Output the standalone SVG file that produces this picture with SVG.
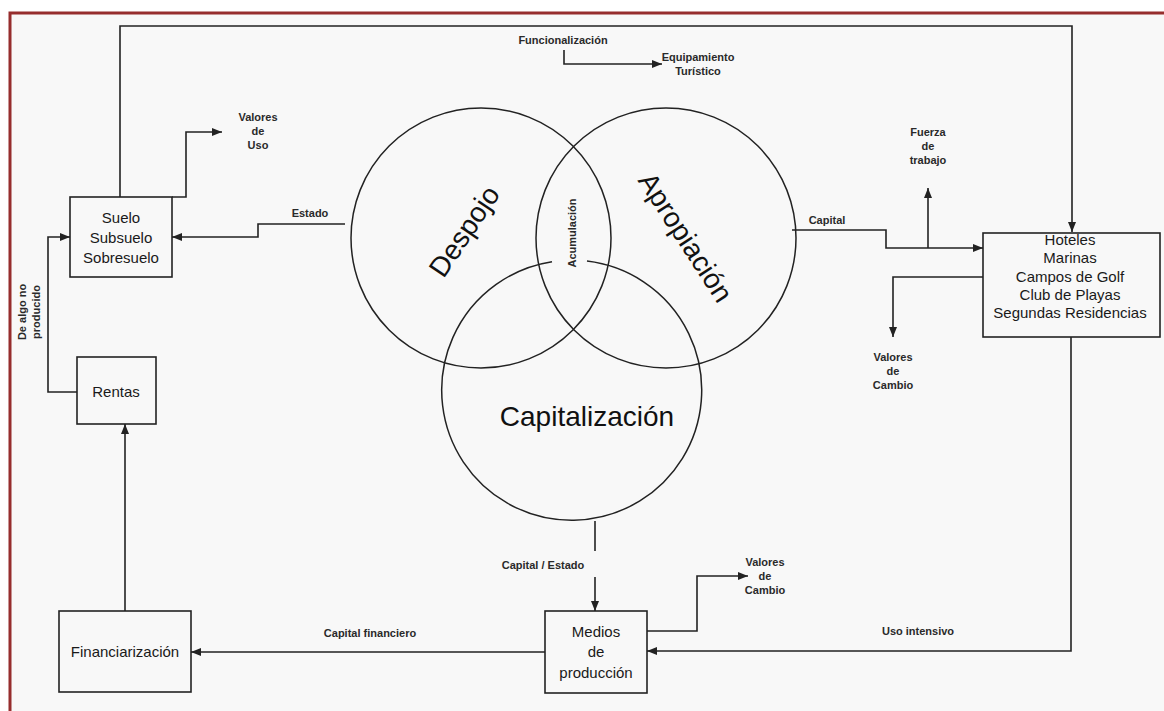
<svg xmlns="http://www.w3.org/2000/svg" width="1164" height="711" viewBox="0 0 1164 711">
<defs>
<style>
.bg{fill:#f8f8f8}
.frame{fill:none;stroke:#962d2d;stroke-width:3}
.box{fill:#f8f8f8;stroke:#222;stroke-width:1.6}
.circ{fill:none;stroke:#222;stroke-width:1.5}
.ln{fill:none;stroke:#222;stroke-width:1.6}
.arr{marker-end:url(#ah)}
.bt{font-family:"Liberation Sans",Arial,sans-serif;font-size:15px;fill:#1a1a1a;text-anchor:middle}
.lb{font-family:"Liberation Sans",Arial,sans-serif;font-size:11px;font-weight:bold;fill:#2a2a2a;text-anchor:middle}
.big{font-family:"Liberation Sans",Arial,sans-serif;font-size:28px;fill:#111;text-anchor:middle}
</style>
<marker id="ah" viewBox="0 0 10 10" refX="10" refY="5" markerWidth="6.5" markerHeight="6.5" markerUnits="strokeWidth" orient="auto">
<path d="M0,1 L10,5 L0,9 z" fill="#222"/>
</marker>
</defs>
<rect x="0" y="0" width="1164" height="711" fill="#ffffff"/>
<rect class="bg" x="10" y="13" width="1154" height="698"/>
<path class="frame" d="M10,711 L10,13 L1164,13"/>

<g id="venn">
<circle class="circ" cx="481" cy="238" r="130"/>
<circle class="circ" cx="666" cy="238" r="130"/>
<path class="circ" d="M552,261.7 A130,130 0 1 0 587,261.1"/>
<text class="big" transform="translate(464,231) rotate(-56)" dy="10">Despojo</text>
<text class="big" transform="translate(686,237) rotate(57)" dy="10">Apropiación</text>
<text class="big" x="587" y="426" font-size="26">Capitalización</text>
<text class="lb" transform="translate(572,233) rotate(-90)" dy="4">Acumulación</text>
</g>

<g id="suelo">
<rect class="box" x="70" y="197" width="102" height="80"/>
<text class="bt" x="121" y="223">Suelo</text>
<text class="bt" x="121" y="243">Subsuelo</text>
<text class="bt" x="121" y="263">Sobresuelo</text>
</g>

<g id="rentas">
<rect class="box" x="77" y="357" width="79" height="67"/>
<text class="bt" x="116" y="397">Rentas</text>
</g>

<g id="financiarizacion">
<rect class="box" x="59" y="611" width="132" height="81"/>
<text class="bt" x="125" y="657">Financiarización</text>
</g>

<g id="medios">
<rect class="box" x="545" y="611" width="102" height="82"/>
<text class="bt" x="596" y="637">Medios</text>
<text class="bt" x="596" y="657">de</text>
<text class="bt" x="596" y="678">producción</text>
</g>

<g id="hoteles">
<rect class="box" x="983" y="233" width="177" height="104"/>
<text class="bt" x="1070" y="245" font-size="14">Hoteles</text>
<text class="bt" x="1070" y="263" font-size="14">Marinas</text>
<text class="bt" x="1070" y="282" font-size="14">Campos de Golf</text>
<text class="bt" x="1070" y="300" font-size="14">Club de Playas</text>
<text class="bt" x="1070" y="318" font-size="14">Segundas Residencias</text>
</g>

<g id="connectors">
<path class="ln arr" d="M120,197 L120,26 L1072,26 L1072,232"/>
<path class="ln arr" d="M172,197 L186,197 L186,132 L222,132"/>
<path class="ln arr" d="M345,224 L258,224 L258,237 L172,237"/>
<path class="ln arr" d="M77,392 L48,392 L48,237 L70,237"/>
<path class="ln arr" d="M125,611 L125,424"/>
<path class="ln arr" d="M545,652 L191,652"/>
<path class="ln" d="M595,521 L595,551"/>
<path class="ln arr" d="M595,577 L595,611"/>
<path class="ln arr" d="M647,631 L697,631 L697,576 L748,576"/>
<path class="ln arr" d="M1071,337 L1071,651 L647,651"/>
<path class="ln arr" d="M792,230 L886,230 L886,248 L983,248"/>
<path class="ln arr" d="M928,248 L928,188"/>
<path class="ln arr" d="M983,277 L893,277 L893,337"/>
<path class="ln arr" d="M564,50 L564,64 L662,64"/>
</g>

<g id="labels">
<text class="lb" x="258" y="121">Valores</text>
<text class="lb" x="258" y="135">de</text>
<text class="lb" x="258" y="149">Uso</text>
<text class="lb" x="310" y="217">Estado</text>
<text class="lb" transform="translate(26,312) rotate(-90)">De algo no</text>
<text class="lb" transform="translate(40,312) rotate(-90)">producido</text>
<text class="lb" x="370" y="637">Capital financiero</text>
<text class="lb" x="543" y="569">Capital / Estado</text>
<text class="lb" x="765" y="566">Valores</text>
<text class="lb" x="765" y="580">de</text>
<text class="lb" x="765" y="594">Cambio</text>
<text class="lb" x="918" y="635">Uso intensivo</text>
<text class="lb" x="827" y="224">Capital</text>
<text class="lb" x="928" y="136">Fuerza</text>
<text class="lb" x="928" y="150">de</text>
<text class="lb" x="928" y="164">trabajo</text>
<text class="lb" x="893" y="361">Valores</text>
<text class="lb" x="893" y="375">de</text>
<text class="lb" x="893" y="389">Cambio</text>
<text class="lb" x="563" y="44">Funcionalización</text>
<text class="lb" x="698" y="61">Equipamiento</text>
<text class="lb" x="698" y="75">Turístico</text>
</g>
</svg>
